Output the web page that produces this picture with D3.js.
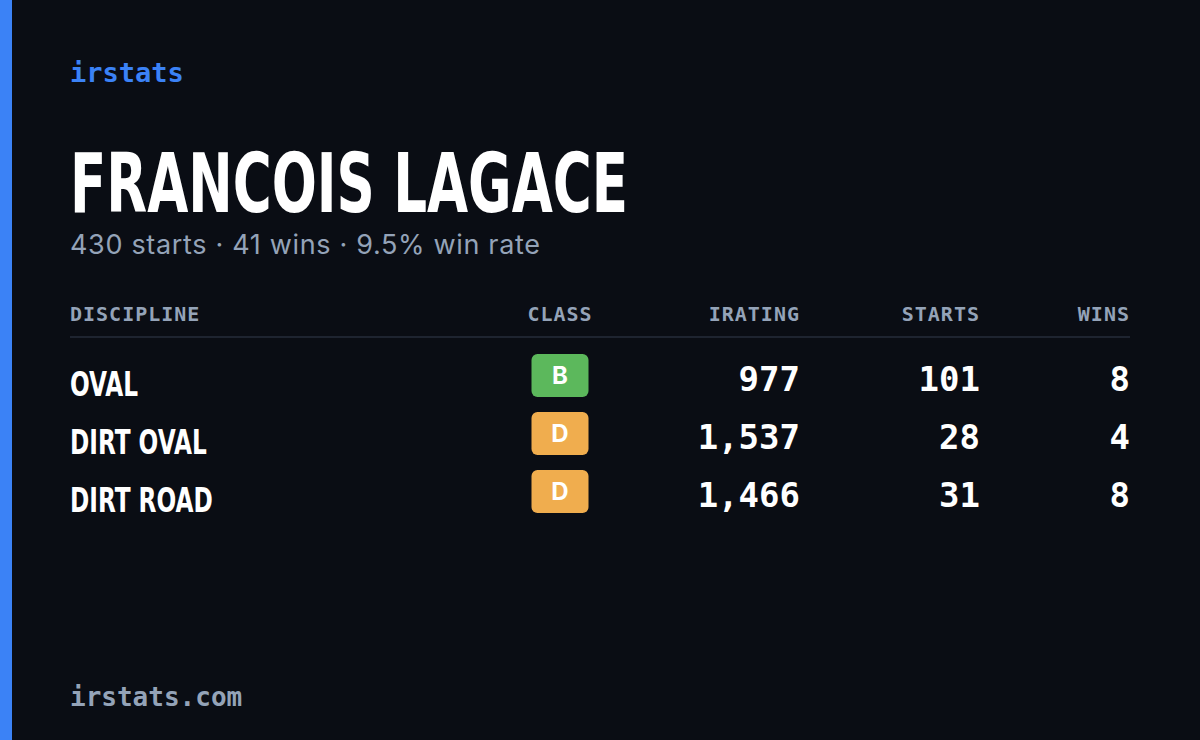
<!DOCTYPE html>
<html lang="en">
<head>
<meta charset="utf-8">
<style>
  body { margin: 0; background: #0a0d14; }
  svg { display: block; }
</style>
</head>
<body>
<svg></svg>
<script src="https://d3js.org/d3.v7.min.js"></script>
<script>
  var driverName = "FRANCOIS LAGACE";
  var summary = "430 starts \u00b7 41 wins \u00b7 9.5% win rate";
  var columns = ["DISCIPLINE", "CLASS", "IRATING", "STARTS", "WINS"];
  var disciplines = ["OVAL", "DIRT OVAL", "DIRT ROAD"];
  var classes = ["B", "D", "D"];
  var iratings = [977, 1537, 1466];
  var starts = [101, 28, 31];
  var wins = [8, 4, 8];

  var width = 1200, height = 740;
  var mono = "'DejaVu Sans Mono', monospace";
  var cond = "'Liberation Sans Narrow', 'DejaVu Sans Condensed', sans-serif";
  var classColor = d3.scaleOrdinal().domain(["B", "D"]).range(["#5cb85c", "#f0ad4e"]);

  var svg = d3.select("svg").attr("width", width).attr("height", height);
  svg.append("rect").attr("width", width).attr("height", height).attr("fill", "#0a0d14");
  svg.append("rect").attr("width", 12).attr("height", height).attr("fill", "#3b82f6");

  svg.append("text").attr("x", 70).attr("y", 82).text("irstats")
    .attr("font-family", mono).attr("font-size", 27).attr("font-weight", 600).attr("fill", "#3b82f6");

  svg.append("text").attr("x", 70).attr("y", 212).text(driverName)
    .attr("font-family", cond).attr("font-weight", "bold").attr("font-size", 82)
    .attr("fill", "#ffffff").attr("textLength", 558).attr("lengthAdjust", "spacingAndGlyphs");

  svg.append("text").attr("x", 70).attr("y", 254).text(summary)
    .attr("font-family", "Inter, sans-serif").attr("font-size", 27).attr("fill", "#94a3b8")
    .attr("textLength", 470).attr("lengthAdjust", "spacing");

  var colX = d3.scaleOrdinal().domain(columns).range([70, 560, 800, 980, 1130]);
  var colAnchor = d3.scaleOrdinal().domain(columns).range(["start", "middle", "end", "end", "end"]);

  svg.selectAll("text.head").data(columns).enter().append("text")
    .attr("class", "head")
    .attr("x", d => colX(d)).attr("y", 321)
    .attr("text-anchor", d => colAnchor(d))
    .attr("font-family", mono).attr("font-size", 20).attr("font-weight", 600).attr("letter-spacing", 1)
    .attr("fill", "#94a3b8").text(d => d);

  svg.append("line").attr("x1", 70).attr("x2", 1130).attr("y1", 337).attr("y2", 337)
    .attr("stroke", "#1e2430").attr("stroke-width", 2);

  var y = d3.scaleBand().domain(disciplines).range([354, 528]);

  var rows = svg.selectAll("g.row").data(disciplines).enter().append("g")
    .attr("class", "row").attr("transform", d => "translate(0," + y(d) + ")");

  rows.append("text")
    .attr("transform", "translate(70,42) scale(0.76,1)")
    .attr("font-family", cond).attr("font-weight", "bold").attr("font-size", 34)
    .attr("fill", "#ffffff").text(d => d);

  rows.append("rect").attr("x", colX("CLASS") - 28.5).attr("y", 0)
    .attr("width", 57).attr("height", 43).attr("rx", 6)
    .attr("fill", (d, i) => classColor(classes[i]));
  rows.append("text").attr("x", colX("CLASS")).attr("y", 30).attr("text-anchor", "middle")
    .attr("font-family", "Inter, sans-serif").attr("font-weight", "bold").attr("font-size", 24)
    .attr("fill", "#ffffff").text((d, i) => classes[i]);

  var fmt = d3.format(",");
  var numCols = [["IRATING", iratings], ["STARTS", starts], ["WINS", wins]];
  numCols.forEach(function (c) {
    rows.append("text").attr("x", colX(c[0])).attr("y", 37).attr("text-anchor", "end")
      .attr("font-family", mono).attr("font-size", 34).attr("font-weight", 600).attr("fill", "#ffffff")
      .text((d, i) => fmt(c[1][i]));
  });

  svg.append("text").attr("x", 70).attr("y", 706).text("irstats.com")
    .attr("font-family", mono).attr("font-size", 26).attr("font-weight", 600).attr("fill", "#94a3b8");
</script>
</body>
</html>
